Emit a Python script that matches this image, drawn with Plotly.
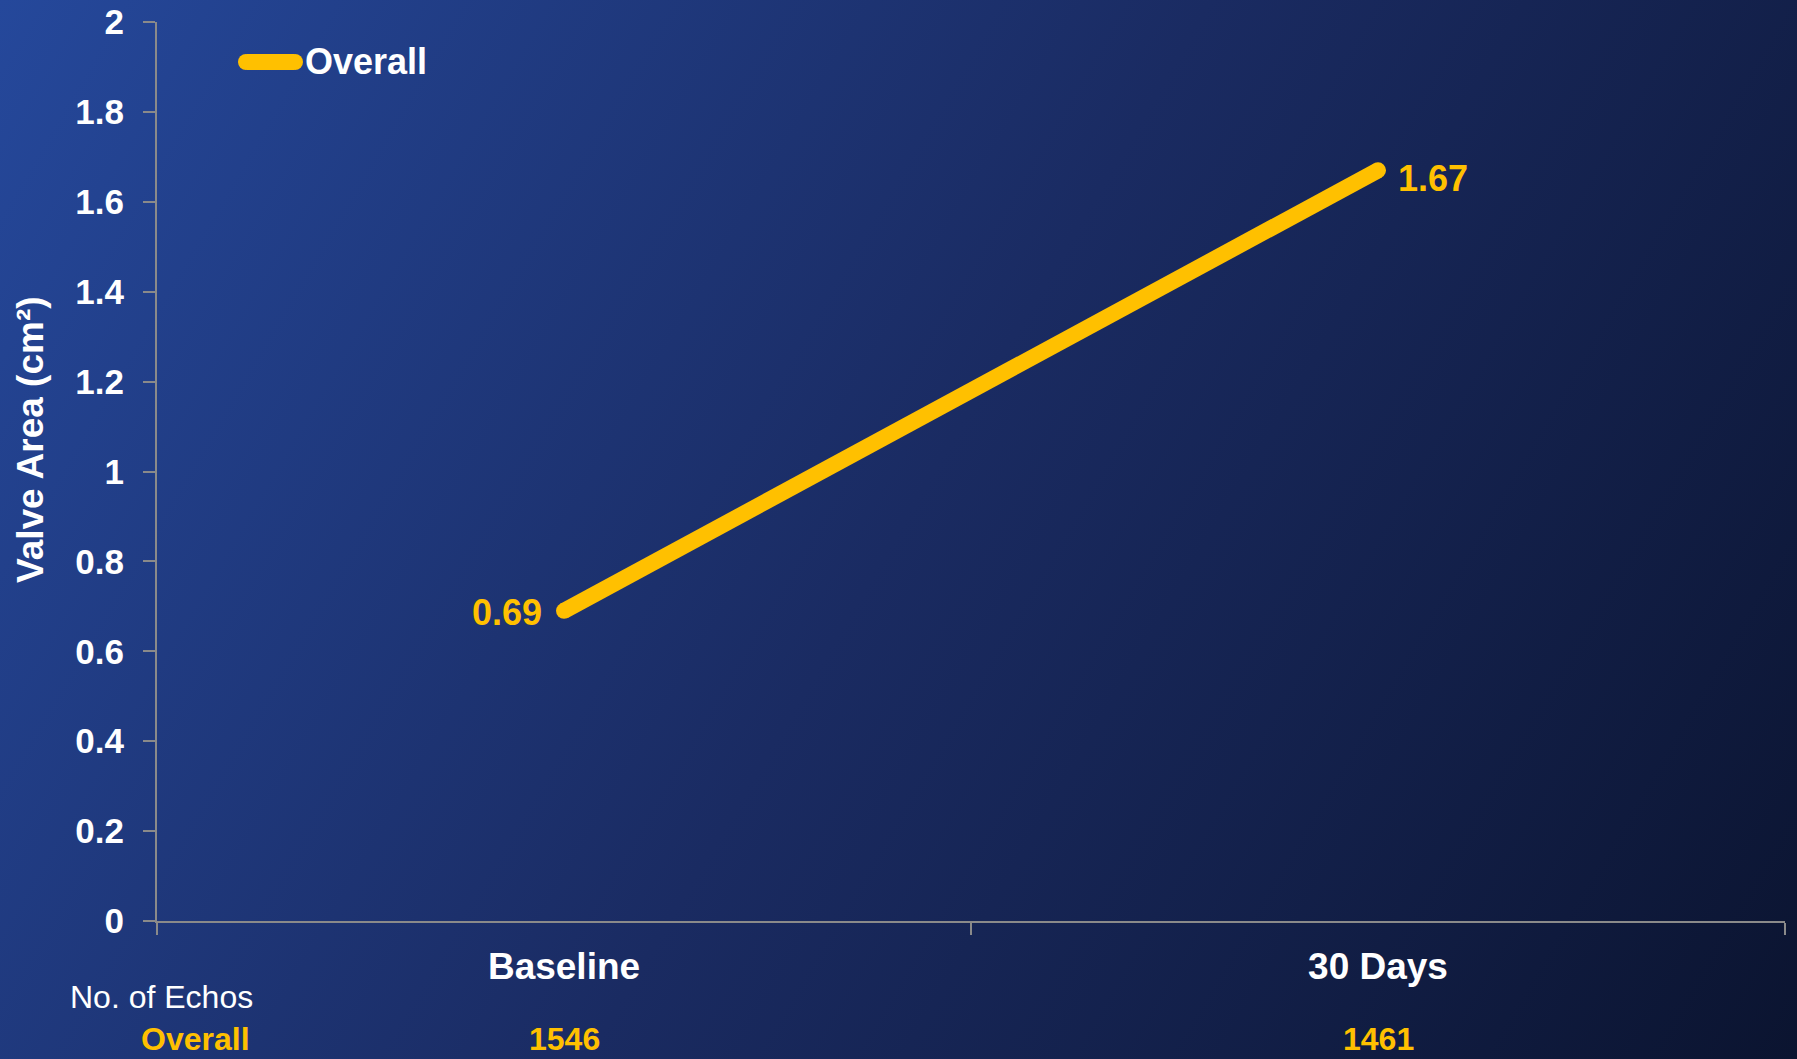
import base64
import plotly.graph_objects as go

# Valve area at each time point
categories = ["Baseline", "30 Days"]
valve_area = [0.69, 1.67]
series_name = "Overall"

# Number of echocardiograms per time point
echo_counts = [1546, 1461]
table_header = "No. of Echos"

y_ticks = [0, 0.2, 0.4, 0.6, 0.8, 1, 1.2, 1.4, 1.6, 1.8, 2]

W, H = 1797, 1059
# plot area in pixels
X0, X1 = 157, 1785
Y_TOP, Y_BOT = 22, 921

YELLOW = "#FFC000"
AXIS = "#8a8a8a"
FONT = "Liberation Sans, Arial, sans-serif"


def fx(px):
    return px / W


def fy(py):
    return 1 - py / H


# Diagonal blue backdrop as an inline SVG gradient
svg = (
    f'<svg xmlns="http://www.w3.org/2000/svg" width="{W}" height="{H}" '
    f'viewBox="0 0 {W} {H}" preserveAspectRatio="none">'
    '<defs><linearGradient id="g" gradientUnits="userSpaceOnUse" '
    f'x1="0" y1="0" x2="{W}" y2="{H}">'
    '<stop offset="0" stop-color="#25489b"/>'
    '<stop offset="0.5" stop-color="#1a2b62"/>'
    '<stop offset="1" stop-color="#0b1430"/>'
    '</linearGradient></defs>'
    f'<rect width="{W}" height="{H}" fill="url(#g)"/></svg>'
)
bg_src = "data:image/svg+xml;base64," + base64.b64encode(svg.encode()).decode()

fig = go.Figure()
fig.add_trace(
    go.Scatter(
        x=categories,
        y=valve_area,
        name=series_name,
        mode="lines+markers",
        line=dict(color=YELLOW, width=16),
        marker=dict(color=YELLOW, size=16, symbol="circle"),
        showlegend=False,
        cliponaxis=False,
    )
)

annotations = []
shapes = []

# Value labels beside each point
label_side = [("right", -20, -2), ("left", 18, -8)]
for cat, v, (anchor, dx, dy) in zip(categories, valve_area, label_side):
    annotations.append(
        dict(text=f"{v:.2f}", xref="x", yref="y", x=cat, y=v,
             xanchor=anchor, yanchor="middle", xshift=dx, yshift=dy,
             showarrow=False,
             font=dict(family=FONT, size=36, color=YELLOW, weight="bold"))
    )

# Legend sample
shapes.append(
    dict(type="line", xref="paper", yref="paper",
         x0=fx(247), x1=fx(294), y0=fy(62), y1=fy(62),
         line=dict(color=YELLOW, width=16), layer="above")
)
for cx in (246, 295):
    shapes.append(
        dict(type="circle", xref="paper", yref="paper",
             x0=fx(cx - 8), x1=fx(cx + 8), y0=fy(70), y1=fy(54),
             fillcolor=YELLOW, line=dict(width=0))
    )
annotations.append(
    dict(text=series_name, xref="paper", yref="paper", x=fx(303), y=fy(62),
         xanchor="left", yanchor="middle", showarrow=False,
         font=dict(family=FONT, size=36, color="white", weight="bold"))
)

# Y axis title
annotations.append(
    dict(text="Valve Area (cm²)", xref="paper", yref="paper", x=fx(31), y=fy(440),
         xanchor="center", yanchor="middle", textangle=-90, showarrow=False,
         font=dict(family=FONT, size=37, color="white", weight="bold"))
)

# Echo count table under the axis
annotations.append(
    dict(text=table_header, xref="paper", yref="paper", x=fx(161), y=fy(997),
         xanchor="center", yanchor="middle", showarrow=False,
         font=dict(family=FONT, size=32, color="white"))
)
annotations.append(
    dict(text=series_name, xref="paper", yref="paper", x=fx(195), y=fy(1039),
         xanchor="center", yanchor="middle", showarrow=False,
         font=dict(family=FONT, size=32, color=YELLOW, weight="bold"))
)
for cat, n in zip(categories, echo_counts):
    annotations.append(
        dict(text=str(n), xref="x", yref="paper", x=cat, y=fy(1039),
             xanchor="center", yanchor="middle", showarrow=False,
             font=dict(family=FONT, size=32, color=YELLOW, weight="bold"))
    )

fig.update_layout(
    width=W,
    height=H,
    margin=dict(l=0, r=0, t=0, b=0),
    template="none",
    paper_bgcolor="#1a2b62",
    plot_bgcolor="rgba(0,0,0,0)",
    images=[
        dict(source=bg_src, xref="paper", yref="paper",
             x=0, y=1, sizex=1, sizey=1,
             xanchor="left", yanchor="top", sizing="stretch", layer="below")
    ],
    shapes=shapes,
    annotations=annotations,
    showlegend=False,
    xaxis=dict(
        domain=[fx(X0), fx(X1)],
        automargin=False,
        type="category",
        categoryorder="array",
        categoryarray=categories,
        range=[-0.5, 1.5],
        showline=True,
        linecolor=AXIS,
        linewidth=2,
        ticks="outside",
        tickson="boundaries",
        ticklen=12,
        tickwidth=2,
        tickcolor=AXIS,
        showgrid=False,
        zeroline=False,
        ticklabelstandoff=12,
        tickfont=dict(family=FONT, size=37, color="white", weight="bold"),
    ),
    yaxis=dict(
        domain=[fy(Y_BOT), fy(Y_TOP)],
        automargin=False,
        range=[0, 2],
        tickvals=y_ticks,
        ticktext=[f"{t:g}" for t in y_ticks],
        showline=True,
        linecolor=AXIS,
        linewidth=2,
        ticks="outside",
        ticklen=12,
        tickwidth=2,
        tickcolor=AXIS,
        showgrid=False,
        zeroline=False,
        ticklabelstandoff=12,
        tickfont=dict(family=FONT, size=35, color="white", weight="bold"),
    ),
)

fig.write_html("out.html")
